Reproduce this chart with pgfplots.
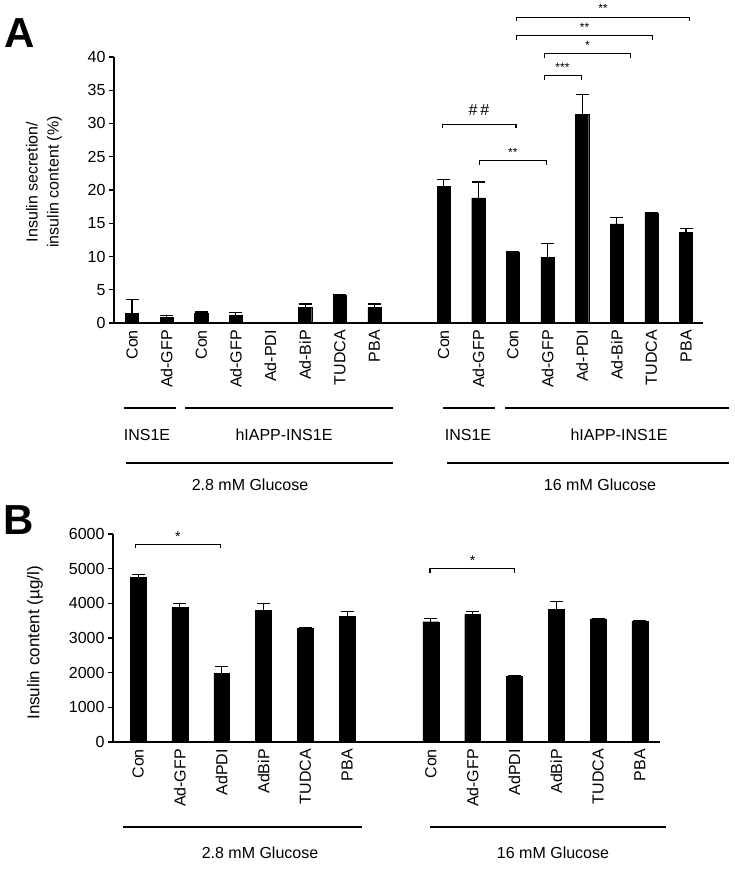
\documentclass[border=0pt]{standalone}
\usepackage{fontspec}
\setmainfont{Liberation Sans}
\usepackage{pgfplots}
\usepackage{pgfplotstable}
\pgfplotsset{compat=1.18}

\pgfplotstableread{
x y e
0 1.4 2.1
1 0.8 0.35
2 1.5 0.15
3 1.2 0.35
4 0.1 0
5 2.4 0.45
6 4.2 0.1
7 2.4 0.45
9 20.6 1.0
10 18.8 2.4
11 10.7 0
12 9.9 2.1
13 31.4 2.9
14 14.9 1.0
15 16.5 0.1
16 13.6 0.6
}\tableA

\pgfplotstableread{
x y e
0 4750 90
1 3885 115
2 1990 200
3 3790 210
4 3270 20
5 3615 145
7 3470 90
8 3680 80
9 1885 20
10 3830 230
11 3550 20
12 3480 20
}\tableB

\pgfplotsset{
  mystyle/.style={
    scale only axis, anchor=south west, clip=false,
    axis x line*=bottom, axis y line*=left,
    axis line style={-, line width=1.1pt},
    ybar, bar width=0.38,
    tick align=outside, major tick length=5pt,
    y tick style={line width=1.1pt, black},
    x tick style={draw=none},
    xticklabel style={rotate=90, anchor=east, font=\fontsize{16}{16}\selectfont, inner sep=2pt},
    yticklabel style={font=\fontsize{16}{16}\selectfont},
    /pgf/number format/assume math mode=true,
    /pgf/number format/1000 sep={},
    scaled y ticks=false,
  },
  mybars/.style={
    fill=black, draw=black,
    error bars/.cd, y dir=plus, y explicit,
    error bar style={line width=1.1pt, black},
    error mark options={rotate=90, line width=1.1pt, black, mark size=6.5pt},
  },
}

\begin{document}
\begin{tikzpicture}
\useasboundingbox (0pt,0pt) rectangle (734pt,869pt);

% Panel A
\begin{axis}[mystyle,
  at={(114pt,546pt)}, width=589pt, height=266pt,
  xmin=-0.52, xmax=16.49, ymin=0, ymax=40,
  ytick={0,5,...,40},
  xtick={0,1,2,3,4,5,6,7,9,10,11,12,13,14,15,16},
  xticklabels={Con,Ad-GFP,Con,Ad-GFP,Ad-PDI,Ad-BiP,TUDCA,PBA,Con,Ad-GFP,Con,Ad-GFP,Ad-PDI,Ad-BiP,TUDCA,PBA},
]
\addplot[mybars] table[x=x, y=y, y error=e] {\tableA};
\begin{scope}[line width=1.1pt, every node/.style={font=\fontsize{12}{12}\selectfont, inner sep=1pt, anchor=south}]
\draw (axis cs:8.96,29.3) -- (axis cs:8.96,29.9) -- (axis cs:11.09,29.9) -- (axis cs:11.09,29.3);
\node[font=\fontsize{16}{16}\selectfont] at (axis cs:10.02,31.0) {\#\,\#};
\draw (axis cs:10.04,23.8) -- (axis cs:10.04,24.4) -- (axis cs:11.98,24.4) -- (axis cs:11.98,23.8);
\node at (axis cs:11.0,24.8) {**};
\draw (axis cs:11.9,36.6) -- (axis cs:11.9,37.2) -- (axis cs:12.97,37.2) -- (axis cs:12.97,36.6);
\node at (axis cs:12.43,37.6) {***};
\draw (axis cs:11.9,39.9) -- (axis cs:11.9,40.5) -- (axis cs:14.4,40.5) -- (axis cs:14.4,39.9);
\node at (axis cs:13.15,40.9) {*};
\draw (axis cs:11.1,42.6) -- (axis cs:11.1,43.2) -- (axis cs:15.03,43.2) -- (axis cs:15.03,42.6);
\node at (axis cs:13.07,43.6) {**};
\draw (axis cs:11.1,45.4) -- (axis cs:11.1,46.0) -- (axis cs:16.1,46.0) -- (axis cs:16.1,45.4);
\node at (axis cs:13.6,46.4) {**};
\end{scope}
\end{axis}

% Panel B
\begin{axis}[mystyle,
  at={(113pt,127pt)}, width=547pt, height=208pt,
  xmin=-0.6, xmax=12.48, ymin=0, ymax=6000,
  ytick={0,1000,...,6000},
  xtick={0,1,2,3,4,5,7,8,9,10,11,12},
  xticklabels={Con,Ad-GFP,AdPDI,AdBiP,TUDCA,PBA,Con,Ad-GFP,AdPDI,AdBiP,TUDCA,PBA},
]
\addplot[mybars] table[x=x, y=y, y error=e] {\tableB};
\begin{scope}[line width=1.1pt, every node/.style={font=\fontsize{14}{14}\selectfont, inner sep=1pt, anchor=south}]
\draw (axis cs:-0.07,5585) -- (axis cs:-0.07,5700) -- (axis cs:1.96,5700) -- (axis cs:1.96,5585);
\node at (axis cs:0.95,5740) {*};
\draw (axis cs:6.98,4885) -- (axis cs:6.98,5000) -- (axis cs:9.0,5000) -- (axis cs:9.0,4885);
\node at (axis cs:8.0,5040) {*};
\end{scope}
\end{axis}

% Panel letters
\node[font=\fontsize{42}{42}\selectfont\bfseries] at (20pt,836pt) {A};
\node[font=\fontsize{42}{42}\selectfont\bfseries] at (19pt,349pt) {B};

% Y labels
\node[rotate=90, align=center, font=\fontsize{16}{21}\selectfont] at (44pt,687pt) {Insulin secretion/\\insulin content (\%)};
\node[rotate=90, font=\fontsize{17}{17}\selectfont] at (35pt,226pt) {Insulin content (µg/l)};

% Grouping lines
\begin{scope}[line width=1.4pt]
\draw (124pt,461pt) -- (176pt,461pt);
\draw (185pt,461pt) -- (393pt,461pt);
\draw (443pt,461pt) -- (495pt,461pt);
\draw (505pt,461pt) -- (729pt,461pt);
\draw (126pt,406pt) -- (393pt,406pt);
\draw (447pt,406pt) -- (729pt,406pt);
\draw (123pt,42pt) -- (362pt,42pt);
\draw (430pt,42pt) -- (666pt,42pt);
\end{scope}
\begin{scope}[every node/.style={font=\fontsize{16}{16}\selectfont}]
\node at (147pt,434pt) {INS1E};
\node at (284pt,434pt) {hIAPP-INS1E};
\node at (468pt,434pt) {INS1E};
\node at (619pt,434pt) {hIAPP-INS1E};
\node at (250pt,384pt) {2.8 mM Glucose};
\node at (600pt,384pt) {16 mM Glucose};
\node at (260pt,16pt) {2.8 mM Glucose};
\node at (553pt,16pt) {16 mM Glucose};
\end{scope}
\end{tikzpicture}
\end{document}
